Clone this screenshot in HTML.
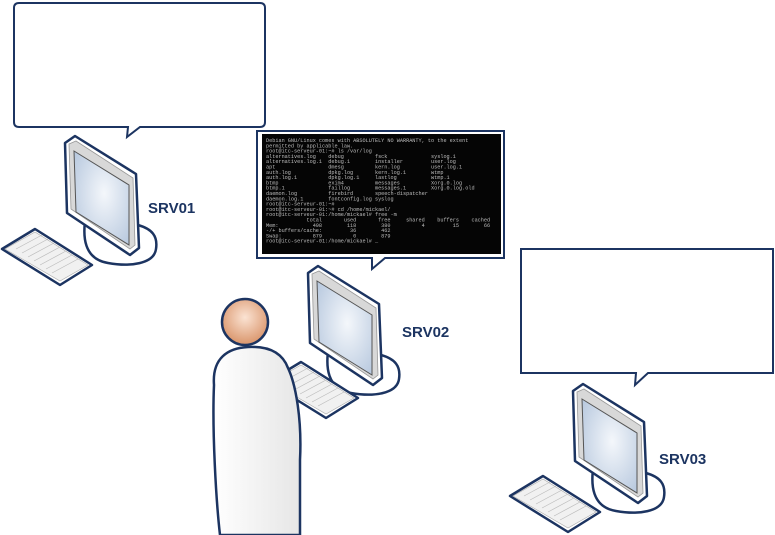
<!DOCTYPE html>
<html><head><meta charset="utf-8"><style>
html,body{margin:0;padding:0;background:#fff;width:775px;height:535px;overflow:hidden}
svg{display:block}
.lbl{font-family:"Liberation Sans",sans-serif;font-weight:bold;font-size:15px;fill:#1c3461}
.t text{font-family:"Liberation Mono",monospace;font-size:5.2px;fill:#bdbdbd;white-space:pre}
</style></head><body>
<svg width="775" height="535" viewBox="0 0 775 535" xmlns="http://www.w3.org/2000/svg" xml:space="preserve">
<defs>
<radialGradient id="scr" cx="0.55" cy="0.45" r="0.7">
<stop offset="0" stop-color="#f4f7fb"/><stop offset="1" stop-color="#b7c8de"/></radialGradient>
<radialGradient id="head" cx="0.5" cy="0.4" r="0.6">
<stop offset="0" stop-color="#fbe3d3"/><stop offset="1" stop-color="#d9946a"/></radialGradient>
<linearGradient id="body" x1="0" y1="0" x2="1" y2="0">
<stop offset="0" stop-color="#fff"/><stop offset="1" stop-color="#e6e6e6"/></linearGradient>
<g id="comp">
<path d="M20,78 C16,100 18,122 42,126 C64,130 88,127 90,112 C92,99 86,92 72,88 Z" fill="#fff" stroke="#1c3461" stroke-width="2.5"/>
<path d="M-1,6 L9,-1 L70,37 L73,111 L64,118 L1,76 Z" fill="#fff" stroke="#1c3461" stroke-width="2.5" stroke-linejoin="round"/>
<path d="M3,7 L10,4 L67,41 L69,108 L64,112 L5,72 Z" fill="#d8d8d8" stroke="#999" stroke-width="0.8"/>
<path d="M8,14 L63,48 L63,108 L10,75 Z" fill="url(#scr)" stroke="#555" stroke-width="1"/>
</g>
<g id="kb">
<path d="M0,20 L33,0 L90,36 L58,56 Z" fill="#fff" stroke="#1c3461" stroke-width="2.5" stroke-linejoin="round"/>
<path d="M3,20 L33,3 L86,36 L58,52 Z" fill="#f1f1f1" stroke="#aaa" stroke-width="0.6"/>
<path d="M14,20 L40,6 M20,24 L46,10 M26,28 L52,14 M32,32 L58,18 M38,36 L64,22 M44,40 L70,26 M50,44 L76,30" stroke="#bbb" stroke-width="0.7"/>
</g>
</defs>

<path d="M14,8 Q14,3 19,3 L260,3 Q265,3 265,8 L265,122 Q265,127 260,127 L140,127 L127,137 L128,127 L19,127 Q14,127 14,122 Z" fill="#fff" stroke="#1c3461" stroke-width="2"/>
<path d="M257,131 L504,131 L504,258 L385,258 L372,269 L372,258 L257,258 Z" fill="#fff" stroke="#1c3461" stroke-width="2"/>
<rect x="262" y="134" width="239" height="120" fill="#050505"/>
<g class="t">
<text x="266" y="142">Debian GNU/Linux comes with ABSOLUTELY NO WARRANTY, to the extent</text>
<text x="266" y="147.3">permitted by applicable law.</text>
<text x="266" y="152.6">root@itc-serveur-01:~# ls /var/log</text>
<text x="266" y="157.9">alternatives.log    debug          fsck              syslog.1</text>
<text x="266" y="163.2">alternatives.log.1  debug.1        installer         user.log</text>
<text x="266" y="168.5">apt                 dmesg          kern.log          user.log.1</text>
<text x="266" y="173.8">auth.log            dpkg.log       kern.log.1        wtmp</text>
<text x="266" y="179.1">auth.log.1          dpkg.log.1     lastlog           wtmp.1</text>
<text x="266" y="184.4">btmp                exim4          messages          Xorg.0.log</text>
<text x="266" y="189.7">btmp.1              faillog        messages.1        Xorg.0.log.old</text>
<text x="266" y="195">daemon.log          firebird       speech-dispatcher</text>
<text x="266" y="200.3">daemon.log.1        fontconfig.log syslog</text>
<text x="266" y="205.6">root@itc-serveur-01:~#</text>
<text x="266" y="210.9">root@itc-serveur-01:~# cd /home/mickael/</text>
<text x="266" y="216.2">root@itc-serveur-01:/home/mickael# free -m</text>
<text x="266" y="221.5">             total       used       free     shared    buffers    cached</text>
<text x="266" y="226.8">Mem:           498        118        380          4         15        66</text>
<text x="266" y="232.1">-/+ buffers/cache:         36        462</text>
<text x="266" y="237.4">Swap:          879          0        879</text>
<text x="266" y="242.7">root@itc-serveur-01:/home/mickael# _</text>
</g>
<path d="M521,249 L773,249 L773,373 L648,373 L635,385 L636,373 L521,373 Z" fill="#fff" stroke="#1c3461" stroke-width="2"/>

<use href="#comp" x="66" y="137"/>
<use href="#kb" x="2" y="229"/>
<text class="lbl" x="148" y="213">SRV01</text>

<use href="#comp" x="309" y="267"/>
<use href="#kb" x="268" y="362"/>
<text class="lbl" x="402" y="337">SRV02</text>
<path d="M214,385 C212,358 228,348 248,347 C268,346 282,352 288,368 C296,385 302,420 300,460 L300,535 L220,535 C216,500 212,430 214,385 Z" fill="url(#body)" stroke="#1c3461" stroke-width="2.5"/>
<circle cx="245" cy="322" r="23" fill="url(#head)" stroke="#1c3461" stroke-width="2.5"/>

<use href="#comp" x="574" y="385"/>
<use href="#kb" x="510" y="476"/>
<text class="lbl" x="659" y="464">SRV03</text>
</svg>
</body></html>
